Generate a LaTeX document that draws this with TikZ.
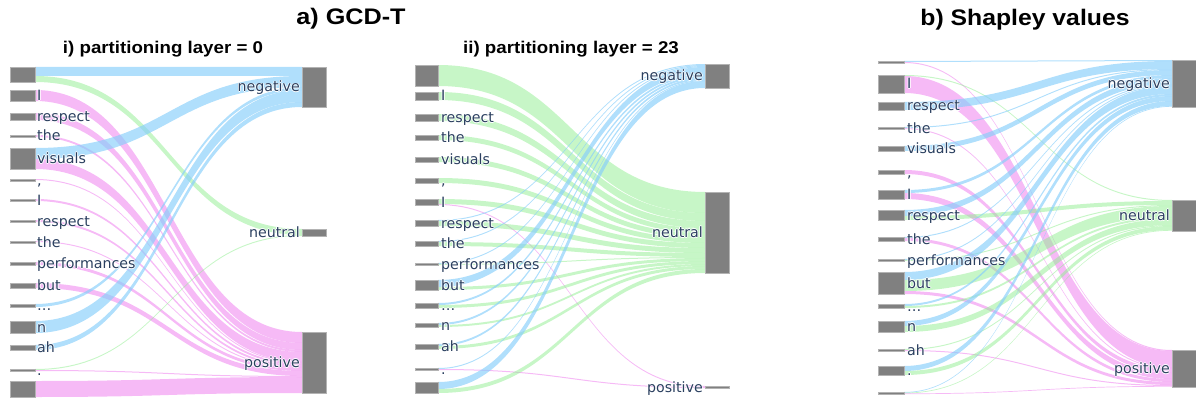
\documentclass[tikz,border=0pt]{standalone}
\usepackage{fontspec}
\usepackage{graphicx}
\setmainfont{DejaVu Sans}
\newfontfamily\titlefont{Liberation Sans}
\definecolor{labc}{HTML}{2A3F5F}
\definecolor{nodegray}{RGB}{128,128,128}
\definecolor{lblue}{RGB}{135,206,250}
\definecolor{lpink}{RGB}{238,130,238}
\definecolor{lgreen}{RGB}{144,238,144}

\newcommand\SKsetx[2]{\gdef\SKxa{#1}\gdef\SKxb{#2}\pgfmathsetmacro\SKtmp{(#1+#2)/2}\xdef\SKxm{\SKtmp}}
\newcommand\SKtgt[2]{\expandafter\xdef\csname SKty#1\endcsname{#2}}
\newcommand\SKsrc[1]{\xdef\SKsy{#1}}
\newcommand\SKlnk[3]{%
  \pgfmathsetmacro\SKya{\SKsy}%
  \pgfmathsetmacro\SKyb{\SKsy+#2}%
  \pgfmathsetmacro\SKyc{\csname SKty#1\endcsname}%
  \pgfmathsetmacro\SKyd{\SKyc+#2}%
  \fill[#3] (\SKxa,\SKya) .. controls (\SKxm,\SKya) and (\SKxm,\SKyc) .. (\SKxb,\SKyc)
     -- (\SKxb,\SKyd) .. controls (\SKxm,\SKyd) and (\SKxm,\SKyb) .. (\SKxa,\SKyb) -- cycle;
  \xdef\SKsy{\SKyb}\expandafter\xdef\csname SKty#1\endcsname{\SKyd}}
\newcommand\halo[1]{\leavevmode
  \rlap{\color{white}\raisebox{0.8pt}{#1}}\rlap{\color{white}\raisebox{-0.8pt}{#1}}%
  \rlap{\color{white}\hspace{0.8pt}#1}\rlap{\color{white}\hspace{-0.8pt}#1}#1}

\tikzset{
  bl/.style={fill=lblue,fill opacity=0.66},
  pk/.style={fill=lpink,fill opacity=0.55},
  gr/.style={fill=lgreen,fill opacity=0.5},
  bar/.style={fill=nodegray,draw=nodegray!60!white,line width=0.3pt,inner sep=0pt,outer sep=0pt,anchor=north west},
  slab/.style={anchor=base west,inner sep=0pt,text=labc,font=\fontsize{14.2}{15}\selectfont},
  tlab/.style={anchor=base east,inner sep=0pt,text=labc,font=\fontsize{14.2}{15}\selectfont},
  ttl/.style={anchor=base,inner sep=0pt,font=\titlefont\bfseries\fontsize{22.5}{24}\selectfont},
  sttl/.style={anchor=base,inner sep=0pt,font=\titlefont\bfseries\fontsize{17}{19}\selectfont},
}

\begin{document}
\begin{tikzpicture}[x=1pt,y=-1pt]
\useasboundingbox (0,0) rectangle (1196,401);

% ---------------- titles
\node[ttl] (ta) at (351,25) {\scalebox{1.12}[1]{a) GCD-T}};
\node[ttl] (tb) at (1025,26) {\scalebox{1.1}[1]{b) Shapley values}};
\node[sttl] (ti) at (163,54) {\scalebox{1.1}[1]{i) partitioning layer = 0}};
\node[sttl] (tii) at (571,54) {\scalebox{1.1}[1]{ii) partitioning layer = 23}};

% ================= panel i =================
\SKsetx{35}{302}
\SKtgt{neg}{67}\SKtgt{neu}{229}\SKtgt{pos}{332}
\SKsrc{67}\SKlnk{neg}{9}{bl}\SKlnk{neu}{6}{gr}
\SKsrc{90}\SKlnk{pos}{11}{pk}
\SKsrc{113}\SKlnk{pos}{7}{pk}
\SKsrc{135}\SKlnk{pos}{2}{pk}
\SKsrc{148}\SKlnk{neg}{11}{bl}\SKlnk{pos}{10}{pk}
\SKsrc{179}\SKlnk{pos}{1}{pk}
\SKsrc{199}\SKlnk{pos}{2}{pk}
\SKsrc{220}\SKlnk{pos}{2}{pk}
\SKsrc{241}\SKlnk{pos}{1}{pk}
\SKsrc{262}\SKlnk{pos}{3}{pk}
\SKsrc{283}\SKlnk{pos}{5}{pk}
\SKsrc{304}\SKlnk{neg}{3}{bl}
\SKsrc{321}\SKlnk{neg}{12}{bl}
\SKsrc{345}\SKlnk{neg}{5}{bl}
\SKsrc{369}\SKlnk{neu}{1}{gr}\SKlnk{pos}{1}{pk}
\SKsrc{381}\SKlnk{pos}{16}{pk}

\foreach \nm/\yy/\hh in {0/67/15,1/90/11,2/113/7,3/135/2,4/148/21,5/179/2,6/199/2,7/220/2,8/241/2,9/262/3,10/283/5,11/304/3,12/321/12,13/345/5,14/369/2,15/381/16}
  \node[bar,minimum width=25pt,minimum height=\hh pt] (Ai\nm) at (10,\yy) {};
\node[bar,minimum width=24pt,minimum height=40pt] (AiNeg) at (302,67) {};
\node[bar,minimum width=24pt,minimum height=7pt] (AiNeu) at (302,229) {};
\node[bar,minimum width=24pt,minimum height=61pt] (AiPos) at (302,332) {};

\foreach \nm/\yy/\tx in {1/100.5/I,2/121.5/respect,3/141/the,4/163.5/visuals,5/185/{,},6/205/I,7/226/respect,8/247/the,9/268.5/performances,10/290.5/but,11/310.5/…,12/332/n,13/352.5/ah,14/375/.}
  \node[slab] (Ail\nm) at (37,\yy) {\halo{\tx}};
\node[tlab] (AiNegl) at (300,92) {\halo{negative}};
\node[tlab] (AiNeul) at (300,237.5) {\halo{neutral}};
\node[tlab] (AiPosl) at (300,367.5) {\halo{positive}};

% ================= panel ii =================
\SKsetx{438}{705}
\SKtgt{neg}{64}\SKtgt{neu}{192}\SKtgt{pos}{386}
\SKsrc{65}\SKlnk{neu}{21}{gr}
\SKsrc{92}\SKlnk{neu}{8}{gr}
\SKsrc{114}\SKlnk{neu}{7}{gr}
\SKsrc{135}\SKlnk{neu}{5}{gr}
\SKsrc{157}\SKlnk{neu}{5}{gr}
\SKsrc{178}\SKlnk{neu}{5}{gr}
\SKsrc{199}\SKlnk{neu}{5}{gr}\SKlnk{pos}{1}{pk}
\SKsrc{220}\SKlnk{neg}{1}{bl}\SKlnk{neu}{5}{gr}
\SKsrc{241}\SKlnk{neg}{1}{bl}\SKlnk{neu}{4}{gr}
\SKsrc{263}\SKlnk{neg}{1}{bl}\SKlnk{neu}{1}{gr}
\SKsrc{280}\SKlnk{neg}{7}{bl}\SKlnk{neu}{3}{gr}
\SKsrc{303}\SKlnk{neg}{2}{bl}\SKlnk{neu}{3}{gr}
\SKsrc{323}\SKlnk{neg}{2}{bl}\SKlnk{neu}{2}{gr}
\SKsrc{344}\SKlnk{neg}{2}{bl}\SKlnk{neu}{3}{gr}
\SKsrc{368}\SKlnk{neg}{1}{bl}\SKlnk{pos}{1}{pk}
\SKsrc{382}\SKlnk{neg}{7}{bl}\SKlnk{neu}{4}{gr}

\foreach \nm/\yy/\hh in {0/65/21,1/92/8,2/114/7,3/135/5,4/157/5,5/178/5,6/199/6,7/220/6,8/241/5,9/263/2,10/280/10,11/303/5,12/323/4,13/344/5,14/368/2,15/382/11}
  \node[bar,minimum width=23pt,minimum height=\hh pt] (Bi\nm) at (415,\yy) {};
\node[bar,minimum width=24pt,minimum height=24pt] (BiNeg) at (705,64) {};
\node[bar,minimum width=24pt,minimum height=81pt] (BiNeu) at (705,192) {};
\node[bar,minimum width=24pt,minimum height=2pt] (BiPos) at (705,386) {};

\foreach \nm/\yy/\tx in {1/101/I,2/122.5/respect,3/142.5/the,4/164.5/visuals,5/185.5/{,},6/207/I,7/228/respect,8/248.5/the,9/269/performances,10/290/but,11/310.5/…,12/330/n,13/351.5/ah,14/374/.}
  \node[slab] (Bil\nm) at (441,\yy) {\halo{\tx}};
\node[tlab] (BiNegl) at (703,81) {\halo{negative}};
\node[tlab] (BiNeul) at (703,237.5) {\halo{neutral}};
\node[tlab] (BiPosl) at (703,392) {\halo{positive}};

% ================= panel b =================
\SKsetx{904}{1172}
\SKtgt{neg}{60}\SKtgt{neu}{200}\SKtgt{pos}{350}
\SKsrc{61}\SKlnk{neg}{1}{bl}\SKlnk{pos}{1}{pk}
\SKsrc{75}\SKlnk{neu}{1}{gr}\SKlnk{pos}{17}{pk}
\SKsrc{102}\SKlnk{neg}{8}{bl}
\SKsrc{127}\SKlnk{neg}{1}{bl}\SKlnk{pos}{1}{pk}
\SKsrc{146}\SKlnk{neg}{5}{bl}
\SKsrc{170}\SKlnk{pos}{4}{pk}
\SKsrc{190}\SKlnk{neg}{3}{bl}\SKlnk{pos}{6}{pk}
\SKsrc{210}\SKlnk{neg}{6}{bl}\SKlnk{neu}{4}{gr}
\SKsrc{237}\SKlnk{neg}{1}{bl}\SKlnk{pos}{3}{pk}
\SKsrc{259}\SKlnk{neg}{1}{bl}\SKlnk{neu}{1}{gr}
\SKsrc{272}\SKlnk{neg}{8}{bl}\SKlnk{neu}{11}{gr}\SKlnk{pos}{3}{pk}
\SKsrc{304}\SKlnk{neg}{2}{bl}\SKlnk{neu}{2}{gr}
\SKsrc{321}\SKlnk{neg}{5}{bl}\SKlnk{neu}{6}{gr}
\SKsrc{349}\SKlnk{neu}{1}{gr}\SKlnk{pos}{1}{pk}
\SKsrc{366}\SKlnk{neg}{5}{bl}\SKlnk{neu}{4}{gr}
\SKsrc{392}\SKlnk{neg}{0.7}{bl}\SKlnk{neu}{0.7}{gr}\SKlnk{pos}{0.7}{pk}

\foreach \nm/\yy/\hh in {0/61/2,1/75/18,2/102/8,3/127/2,4/146/5,5/170/4,6/190/9,7/210/10,8/237/4,9/259/2,10/272/22,11/304/4,12/321/11,13/349/2,14/366/9,15/392/2.1}
  \node[bar,minimum width=26pt,minimum height=\hh pt] (Ci\nm) at (878,\yy) {};
\node[bar,minimum width=24pt,minimum height=47pt] (CiNeg) at (1172,60) {};
\node[bar,minimum width=24pt,minimum height=31pt] (CiNeu) at (1172,200) {};
\node[bar,minimum width=24pt,minimum height=37pt] (CiPos) at (1172,350) {};

\foreach \nm/\yy/\tx in {1/89/I,2/111/respect,3/133/the,4/153.5/visuals,5/177/{,},6/199.5/I,7/220/respect,8/244/the,9/265/performances,10/288/but,11/311/…,12/331.5/n,13/355/ah,14/375.5/.}
  \node[slab] (Cil\nm) at (907,\yy) {\halo{\tx}};
\node[tlab] (CiNegl) at (1170,88.5) {\halo{negative}};
\node[tlab] (CiNeul) at (1170,220.5) {\halo{neutral}};
\node[tlab] (CiPosl) at (1170,373.5) {\halo{positive}};
\end{tikzpicture}
\end{document}
